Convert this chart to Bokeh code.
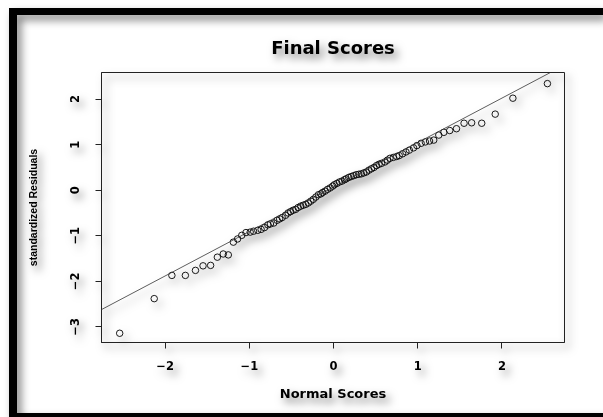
from bokeh.plotting import figure
from bokeh.models import Slope, FixedTicker, Range1d
from bokeh.embed import file_html
from bokeh.resources import INLINE

# Normal scores (theoretical quantiles) and standardized residuals, n = 90
normal_scores = [
    -2.54, -2.13, -1.92, -1.76, -1.64, -1.55, -1.46, -1.38, -1.31, -1.25,
    -1.19, -1.14, -1.09, -1.04, -0.99, -0.95, -0.90, -0.86, -0.82, -0.78,
    -0.75, -0.71, -0.67, -0.64, -0.61, -0.57, -0.54, -0.51, -0.48, -0.45,
    -0.42, -0.39, -0.36, -0.33, -0.30, -0.27, -0.24, -0.21, -0.18, -0.15,
    -0.13, -0.10, -0.07, -0.04, -0.01, 0.01, 0.04, 0.07, 0.10, 0.13,
    0.15, 0.18, 0.21, 0.24, 0.27, 0.30, 0.33, 0.36, 0.39, 0.42,
    0.45, 0.48, 0.51, 0.54, 0.57, 0.61, 0.64, 0.67, 0.71, 0.75,
    0.78, 0.82, 0.86, 0.90, 0.95, 0.99, 1.04, 1.09, 1.14, 1.19,
    1.25, 1.31, 1.38, 1.46, 1.55, 1.64, 1.76, 1.92, 2.13, 2.54,
]
std_residuals = [
    -3.14, -2.38, -1.87, -1.87, -1.76, -1.66, -1.65, -1.47, -1.40, -1.42,
    -1.14, -1.07, -0.99, -0.93, -0.92, -0.90, -0.88, -0.86, -0.82, -0.76,
    -0.74, -0.72, -0.66, -0.63, -0.60, -0.55, -0.50, -0.47, -0.44, -0.42,
    -0.38, -0.35, -0.33, -0.31, -0.28, -0.24, -0.20, -0.15, -0.10, -0.08,
    -0.05, -0.02, 0.02, 0.05, 0.09, 0.12, 0.15, 0.18, 0.20, 0.23,
    0.25, 0.28, 0.30, 0.32, 0.34, 0.35, 0.36, 0.38, 0.40, 0.44,
    0.47, 0.50, 0.54, 0.57, 0.59, 0.62, 0.66, 0.70, 0.72, 0.74,
    0.76, 0.80, 0.84, 0.88, 0.93, 0.98, 1.03, 1.06, 1.08, 1.10,
    1.21, 1.27, 1.31, 1.35, 1.47, 1.48, 1.47, 1.67, 2.02, 2.34,
]

# Reference line through the quartiles
fit_intercept = 0.07
fit_slope = 0.976

x_ticks = [-2, -1, 0, 1, 2]
y_ticks = [-3, -2, -1, 0, 1, 2]

BOLD_FONT = "DejaVu Sans"

# Black picture frame on the top, left and bottom edges, drawn as offset
# box shadows so it does not change the layout box of the figure.
frame_shadows = ", ".join([
    "-8px 0 0 0 black",
    "0 -7px 0 0 black",
    "-8px -7px 0 0 black",
    "0 4px 0 0 black",
    "-8px 4px 0 0 black",
])

p = figure(
    width=586, height=398,
    output_backend="svg", toolbar_location=None,
    x_range=Range1d(-2.756, 2.743), y_range=Range1d(-3.343, 2.584),
    min_border_left=84, min_border_right=39,
    min_border_top=57, min_border_bottom=71,
    background_fill_color=None, border_fill_color=None,
    title="Final Scores",
    styles={
        "margin-left": "17px",
        "margin-top": "15px",
        "box-shadow": frame_shadows,
        "filter": "drop-shadow(4px 5px 4px rgba(0,0,0,0.5))",
    },
)

p.title.align = "center"
p.title.text_font = BOLD_FONT
p.title.text_font_style = "bold"
p.title.text_font_size = "18px"
p.title.text_color = "black"
p.title.standoff = 30

p.xgrid.visible = False
p.ygrid.visible = False
p.outline_line_color = "#222222"
p.outline_line_width = 1

for ax in (p.xaxis[0], p.yaxis[0]):
    ax.minor_tick_line_color = None
    ax.major_tick_in = 0
    ax.major_tick_out = 6
    ax.major_tick_line_color = "#222222"
    ax.axis_line_color = "#222222"
    ax.major_label_text_font = BOLD_FONT
    ax.major_label_text_font_style = "bold"
    ax.major_label_text_color = "black"
    ax.axis_label_text_font_style = "bold"
    ax.axis_label_text_color = "black"

p.xaxis.ticker = FixedTicker(ticks=x_ticks)
p.xaxis.major_label_text_font_size = "11.5px"
p.xaxis.major_label_standoff = 12
p.xaxis.axis_label = "Normal Scores"
p.xaxis.axis_label_text_font = BOLD_FONT
p.xaxis.axis_label_text_font_size = "13px"
p.xaxis.axis_label_standoff = 13

p.yaxis.ticker = FixedTicker(ticks=y_ticks)
p.yaxis.major_label_orientation = "vertical"
p.yaxis.major_label_text_font_size = "11.5px"
p.yaxis.major_label_standoff = 16
p.yaxis.axis_label = "standardized Residuals"
p.yaxis.axis_label_text_font = "Liberation Sans"
p.yaxis.axis_label_text_font_size = "10.5px"
p.yaxis.axis_label_standoff = 29

p.add_layout(Slope(gradient=fit_slope, y_intercept=fit_intercept,
                   line_color="#333333", line_width=0.8))

p.scatter(normal_scores, std_residuals, marker="circle", size=6.5,
          fill_color=None, line_color="black", line_width=0.9)

open("out.html", "w").write(file_html(p, INLINE))
